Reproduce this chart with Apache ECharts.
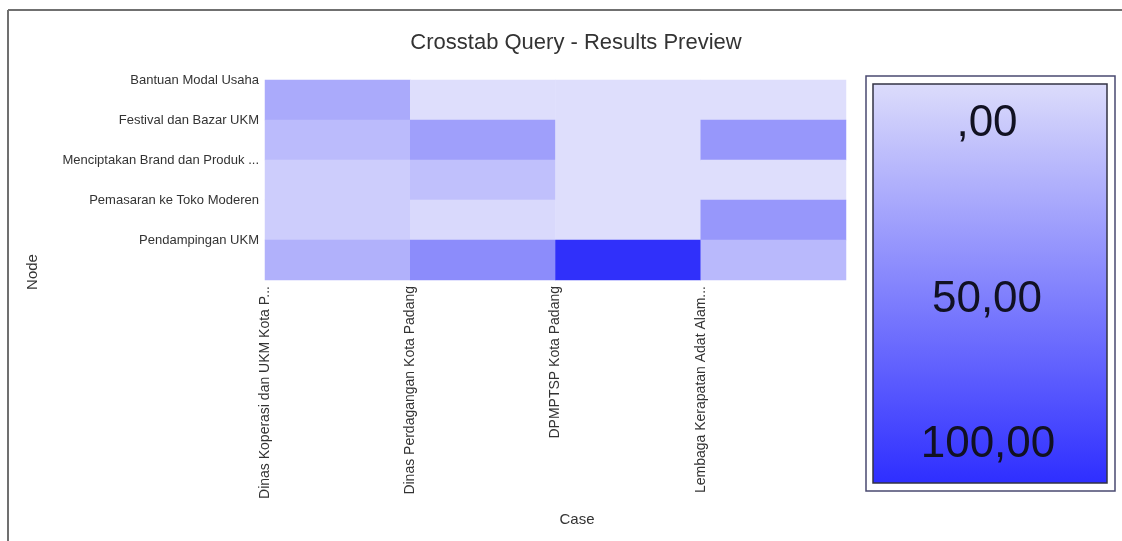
<!DOCTYPE html>
<html>
<head>
<meta charset="utf-8">
<script src="https://cdn.jsdelivr.net/npm/echarts@6/dist/echarts.min.js"></script>
<style>html,body{margin:0;padding:0;background:#fff}#c{width:1122px;height:541px}</style>
</head>
<body>
<div id="c"></div>
<script>
var cases = ['Dinas Koperasi dan UKM Kota P...', 'Dinas Perdagangan Kota Padang', 'DPMPTSP Kota Padang', 'Lembaga Kerapatan Adat Alam...'];
var nodes = ['Bantuan Modal Usaha', 'Festival dan Bazar UKM', 'Menciptakan Brand dan Produk ...', 'Pemasaran ke Toko Moderen', 'Pendampingan UKM'];
// values per case (column), listed in node order
var valDinasKoperasi = [30, 20, 10, 10, 26];
var valDinasPerdagangan = [0, 36, 17, 3, 47];
var valDPMPTSP = [0, 0, 0, 0, 100];
var valLembaga = [0, 41, 0, 41, 21];
var legendLabels = [',00', '50,00', '100,00'];
var legendMin = 0, legendMax = 100;

var columns = [valDinasKoperasi, valDinasPerdagangan, valDPMPTSP, valLembaga];
var data = [];
columns.forEach(function (col, xi) {
  col.forEach(function (v, yi) { data.push([xi, yi, v]); });
});

var FONT = 'Liberation Sans, Arial, sans-serif';
var lightC = '#dedefc', darkC = '#3030fa';

var chart = echarts.init(document.getElementById('c'), null, { renderer: 'canvas' });
chart.setOption({
  animation: false,
  backgroundColor: '#ffffff',
  title: {
    text: 'Crosstab Query - Results Preview',
    left: 571, top: 27, textAlign: 'center',
    textStyle: { fontFamily: FONT, fontSize: 22, fontWeight: 'normal', color: '#333333' }
  },
  grid: { left: 265, right: 276, top: 80, bottom: 261, containLabel: false },
  xAxis: [
    { type: 'category', data: cases, axisLine: { show: false }, axisTick: { show: false }, axisLabel: { show: false }, splitLine: { show: false } },
    { type: 'category', data: cases.concat(['']), boundaryGap: false, position: 'bottom',
      axisLine: { show: false }, axisTick: { show: false }, splitLine: { show: false },
      axisLabel: { interval: 0, rotate: 90, margin: 6, fontFamily: FONT, fontSize: 14, color: '#333333' } }
  ],
  yAxis: [
    { type: 'category', data: nodes, inverse: true, axisLine: { show: false }, axisTick: { show: false }, axisLabel: { show: false }, splitLine: { show: false } },
    { type: 'category', data: nodes.concat(['']), inverse: true, boundaryGap: false, position: 'left',
      axisLine: { show: false }, axisTick: { show: false }, splitLine: { show: false },
      axisLabel: { interval: 0, margin: 6, fontFamily: FONT, fontSize: 13, color: '#333333' } }
  ],
  visualMap: {
    show: false, type: 'continuous', min: legendMin, max: legendMax, dimension: 2, seriesIndex: 0,
    inRange: { color: [lightC, darkC] }
  },
  series: [{
    type: 'heatmap', xAxisIndex: 0, yAxisIndex: 0, data: data,
    itemStyle: { borderWidth: 0 }, emphasis: { disabled: true }
  }],
  graphic: [
    { type: 'line', shape: { x1: 8, y1: 10, x2: 1122, y2: 10 }, style: { stroke: '#707070', lineWidth: 2 } },
    { type: 'line', shape: { x1: 8, y1: 10, x2: 8, y2: 541 }, style: { stroke: '#707070', lineWidth: 2 } },
    { type: 'text', x: 33, y: 272, rotation: Math.PI / 2,
      style: { text: 'Node', fontFamily: FONT, fontSize: 15, fill: '#333333', align: 'center', verticalAlign: 'middle' } },
    { type: 'text', x: 577, y: 520,
      style: { text: 'Case', fontFamily: FONT, fontSize: 15, fill: '#333333', align: 'center', verticalAlign: 'middle' } },
    { type: 'rect', shape: { x: 866, y: 76, width: 249, height: 415 },
      style: { fill: '#ffffff', stroke: '#4a4a70', lineWidth: 1.5 } },
    { type: 'rect', shape: { x: 873, y: 84, width: 234, height: 399 },
      style: { stroke: '#333344', lineWidth: 1.5,
        fill: new echarts.graphic.LinearGradient(0, 0, 0, 1, [
          { offset: 0, color: '#dcdcfb' }, { offset: 1, color: '#2e2eff' }
        ]) } },
    { type: 'text', x: 987, y: 124,
      style: { text: legendLabels[0], fontFamily: FONT, fontSize: 44, fill: '#111122', align: 'center', verticalAlign: 'middle' } },
    { type: 'text', x: 987, y: 300,
      style: { text: legendLabels[1], fontFamily: FONT, fontSize: 44, fill: '#111122', align: 'center', verticalAlign: 'middle' } },
    { type: 'text', x: 988, y: 445,
      style: { text: legendLabels[2], fontFamily: FONT, fontSize: 44, fill: '#111122', align: 'center', verticalAlign: 'middle' } }
  ]
});
</script>
</body>
</html>
